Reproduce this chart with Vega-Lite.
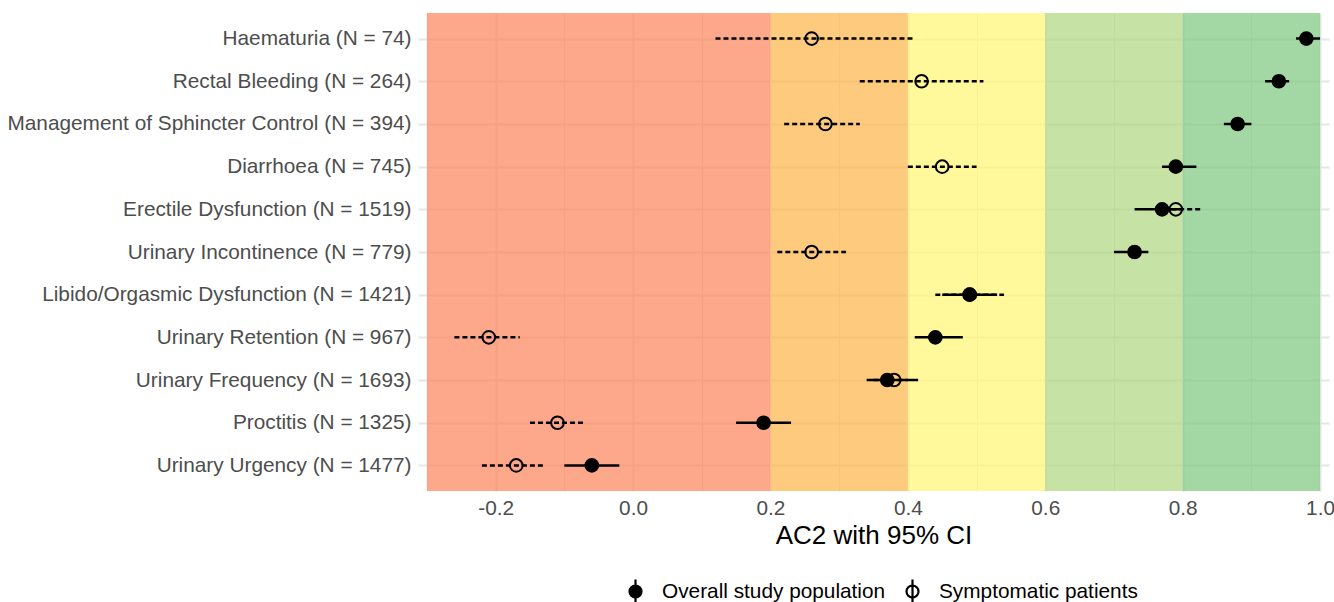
{
  "$schema": "https://vega.github.io/schema/vega-lite/v6.json",
  "autosize": {"type": "none"},
  "padding": {"left": 418, "top": 13, "right": 5, "bottom": 111},
  "width": 911,
  "height": 478,
  "background": "white",
  "config": {"view": {"stroke": null}, "font": "Liberation Sans"},
  "datasets": {
    "bands": [
      {"band": "b1", "from": -0.3, "to": 0.2},
      {"band": "b2", "from": 0.2, "to": 0.4},
      {"band": "b3", "from": 0.4, "to": 0.6},
      {"band": "b4", "from": 0.6, "to": 0.8},
      {"band": "b5", "from": 0.8, "to": 1.0}
    ],
    "est": [
      {"label": "Haematuria (N = 74)", "group": "Overall study population", "est": 0.98, "lo": 0.965, "hi": 1.0},
      {"label": "Rectal Bleeding (N = 264)", "group": "Overall study population", "est": 0.94, "lo": 0.92, "hi": 0.955},
      {"label": "Management of Sphincter Control (N = 394)", "group": "Overall study population", "est": 0.88, "lo": 0.86, "hi": 0.90},
      {"label": "Diarrhoea (N = 745)", "group": "Overall study population", "est": 0.79, "lo": 0.77, "hi": 0.82},
      {"label": "Erectile Dysfunction (N = 1519)", "group": "Overall study population", "est": 0.77, "lo": 0.73, "hi": 0.80},
      {"label": "Urinary Incontinence (N = 779)", "group": "Overall study population", "est": 0.73, "lo": 0.70, "hi": 0.75},
      {"label": "Libido/Orgasmic Dysfunction (N = 1421)", "group": "Overall study population", "est": 0.49, "lo": 0.45, "hi": 0.53},
      {"label": "Urinary Retention (N = 967)", "group": "Overall study population", "est": 0.44, "lo": 0.41, "hi": 0.48},
      {"label": "Urinary Frequency (N = 1693)", "group": "Overall study population", "est": 0.37, "lo": 0.34, "hi": 0.415},
      {"label": "Proctitis (N = 1325)", "group": "Overall study population", "est": 0.19, "lo": 0.15, "hi": 0.23},
      {"label": "Urinary Urgency (N = 1477)", "group": "Overall study population", "est": -0.06, "lo": -0.10, "hi": -0.02},
      {"label": "Haematuria (N = 74)", "group": "Symptomatic patients", "est": 0.26, "lo": 0.12, "hi": 0.41},
      {"label": "Rectal Bleeding (N = 264)", "group": "Symptomatic patients", "est": 0.42, "lo": 0.33, "hi": 0.51},
      {"label": "Management of Sphincter Control (N = 394)", "group": "Symptomatic patients", "est": 0.28, "lo": 0.22, "hi": 0.33},
      {"label": "Diarrhoea (N = 745)", "group": "Symptomatic patients", "est": 0.45, "lo": 0.40, "hi": 0.50},
      {"label": "Erectile Dysfunction (N = 1519)", "group": "Symptomatic patients", "est": 0.79, "lo": 0.76, "hi": 0.826},
      {"label": "Urinary Incontinence (N = 779)", "group": "Symptomatic patients", "est": 0.26, "lo": 0.21, "hi": 0.31},
      {"label": "Libido/Orgasmic Dysfunction (N = 1421)", "group": "Symptomatic patients", "est": 0.49, "lo": 0.44, "hi": 0.54},
      {"label": "Urinary Retention (N = 967)", "group": "Symptomatic patients", "est": -0.21, "lo": -0.26, "hi": -0.165},
      {"label": "Urinary Frequency (N = 1693)", "group": "Symptomatic patients", "est": 0.38, "lo": 0.35, "hi": 0.40},
      {"label": "Proctitis (N = 1325)", "group": "Symptomatic patients", "est": -0.11, "lo": -0.15, "hi": -0.07},
      {"label": "Urinary Urgency (N = 1477)", "group": "Symptomatic patients", "est": -0.17, "lo": -0.22, "hi": -0.13}
    ]
  },
  "resolve": {"legend": {"strokeDash": "independent", "fill": "independent"}},
  "layer": [
    {
      "data": {"name": "bands"},
      "mark": {"type": "rect", "opacity": 0.7},
      "encoding": {
        "x": {"field": "from", "type": "quantitative", "scale": {"domain": [-0.313, 1.013], "nice": false, "zero": false},
          "axis": {
            "values": [-0.3, -0.2, -0.1, 0.0, 0.1, 0.2, 0.3, 0.4, 0.5, 0.6, 0.7, 0.8, 0.9, 1.0],
            "labelExpr": "abs(round(datum.value*10)) % 2 == 0 ? replace(format(datum.value, '.1f'), '\u2212', '-') : ''",
            "grid": true, "gridColor": "#E6E6E6",
            "gridWidth": {"condition": {"test": "abs(round(datum.value*10)) % 2 == 0", "value": 2}, "value": 1},
            "domain": false, "ticks": false,
            "labelFontSize": 20.8, "labelColor": "#4D4D4D", "labelPadding": 7, "labelFont": "Liberation Sans",
            "title": "AC2 with 95% CI", "titleFontSize": 26, "titleFontWeight": "normal", "titleColor": "black", "titlePadding": 5, "titleFont": "Liberation Sans"
          }},
        "x2": {"field": "to"},
        "color": {"field": "band", "type": "nominal", "legend": null,
          "scale": {"domain": ["b1", "b2", "b3", "b4", "b5"], "range": ["#FC8359", "#FCB347", "#FFF672", "#AED67E", "#7CC67E"]}}
      }
    },
    {
      "data": {"name": "est"},
      "mark": {"type": "rule", "strokeWidth": 2.5, "color": "black"},
      "encoding": {
        "y": {"field": "label", "type": "nominal", "sort": null,
          "scale": {"type": "point", "padding": 0.6},
          "axis": {"title": null, "grid": true, "gridColor": "#E6E6E6", "gridWidth": 2, "domain": false, "ticks": false,
            "labelFontSize": 20.8, "labelColor": "#4D4D4D", "labelPadding": 7, "labelLimit": 500, "labelFont": "Liberation Sans"}},
        "x": {"field": "lo", "type": "quantitative"},
        "x2": {"field": "hi"},
        "strokeDash": {"field": "group", "type": "nominal", "legend": null,
          "scale": {"domain": ["Overall study population", "Symptomatic patients"], "range": [[1, 0], [5, 3]]}}
      }
    },
    {
      "data": {"name": "est"},
      "mark": {"type": "point", "filled": true, "stroke": "black", "strokeWidth": 2, "size": 160, "shape": "circle", "opacity": 1},
      "encoding": {
        "y": {"field": "label", "type": "nominal", "sort": null},
        "x": {"field": "est", "type": "quantitative"},
        "fill": {"field": "group", "type": "nominal",
          "scale": {"domain": ["Overall study population", "Symptomatic patients"], "range": ["black", "transparent"]},
          "legend": {"orient": "none", "legendX": 204, "legendY": 565, "direction": "horizontal", "title": null,
            "symbolType": "M-0.5,0A0.5,0.5,0,1,0,0.5,0A0.5,0.5,0,1,0,-0.5,0M0,-1V1",
            "symbolSize": 576, "symbolStrokeColor": "black", "symbolStrokeWidth": 2.2,
            "labelFontSize": 20.8, "labelColor": "black", "labelFont": "Liberation Sans", "labelLimit": 400, "labelOffset": 13, "columnPadding": 13}}
      }
    }
  ]
}
